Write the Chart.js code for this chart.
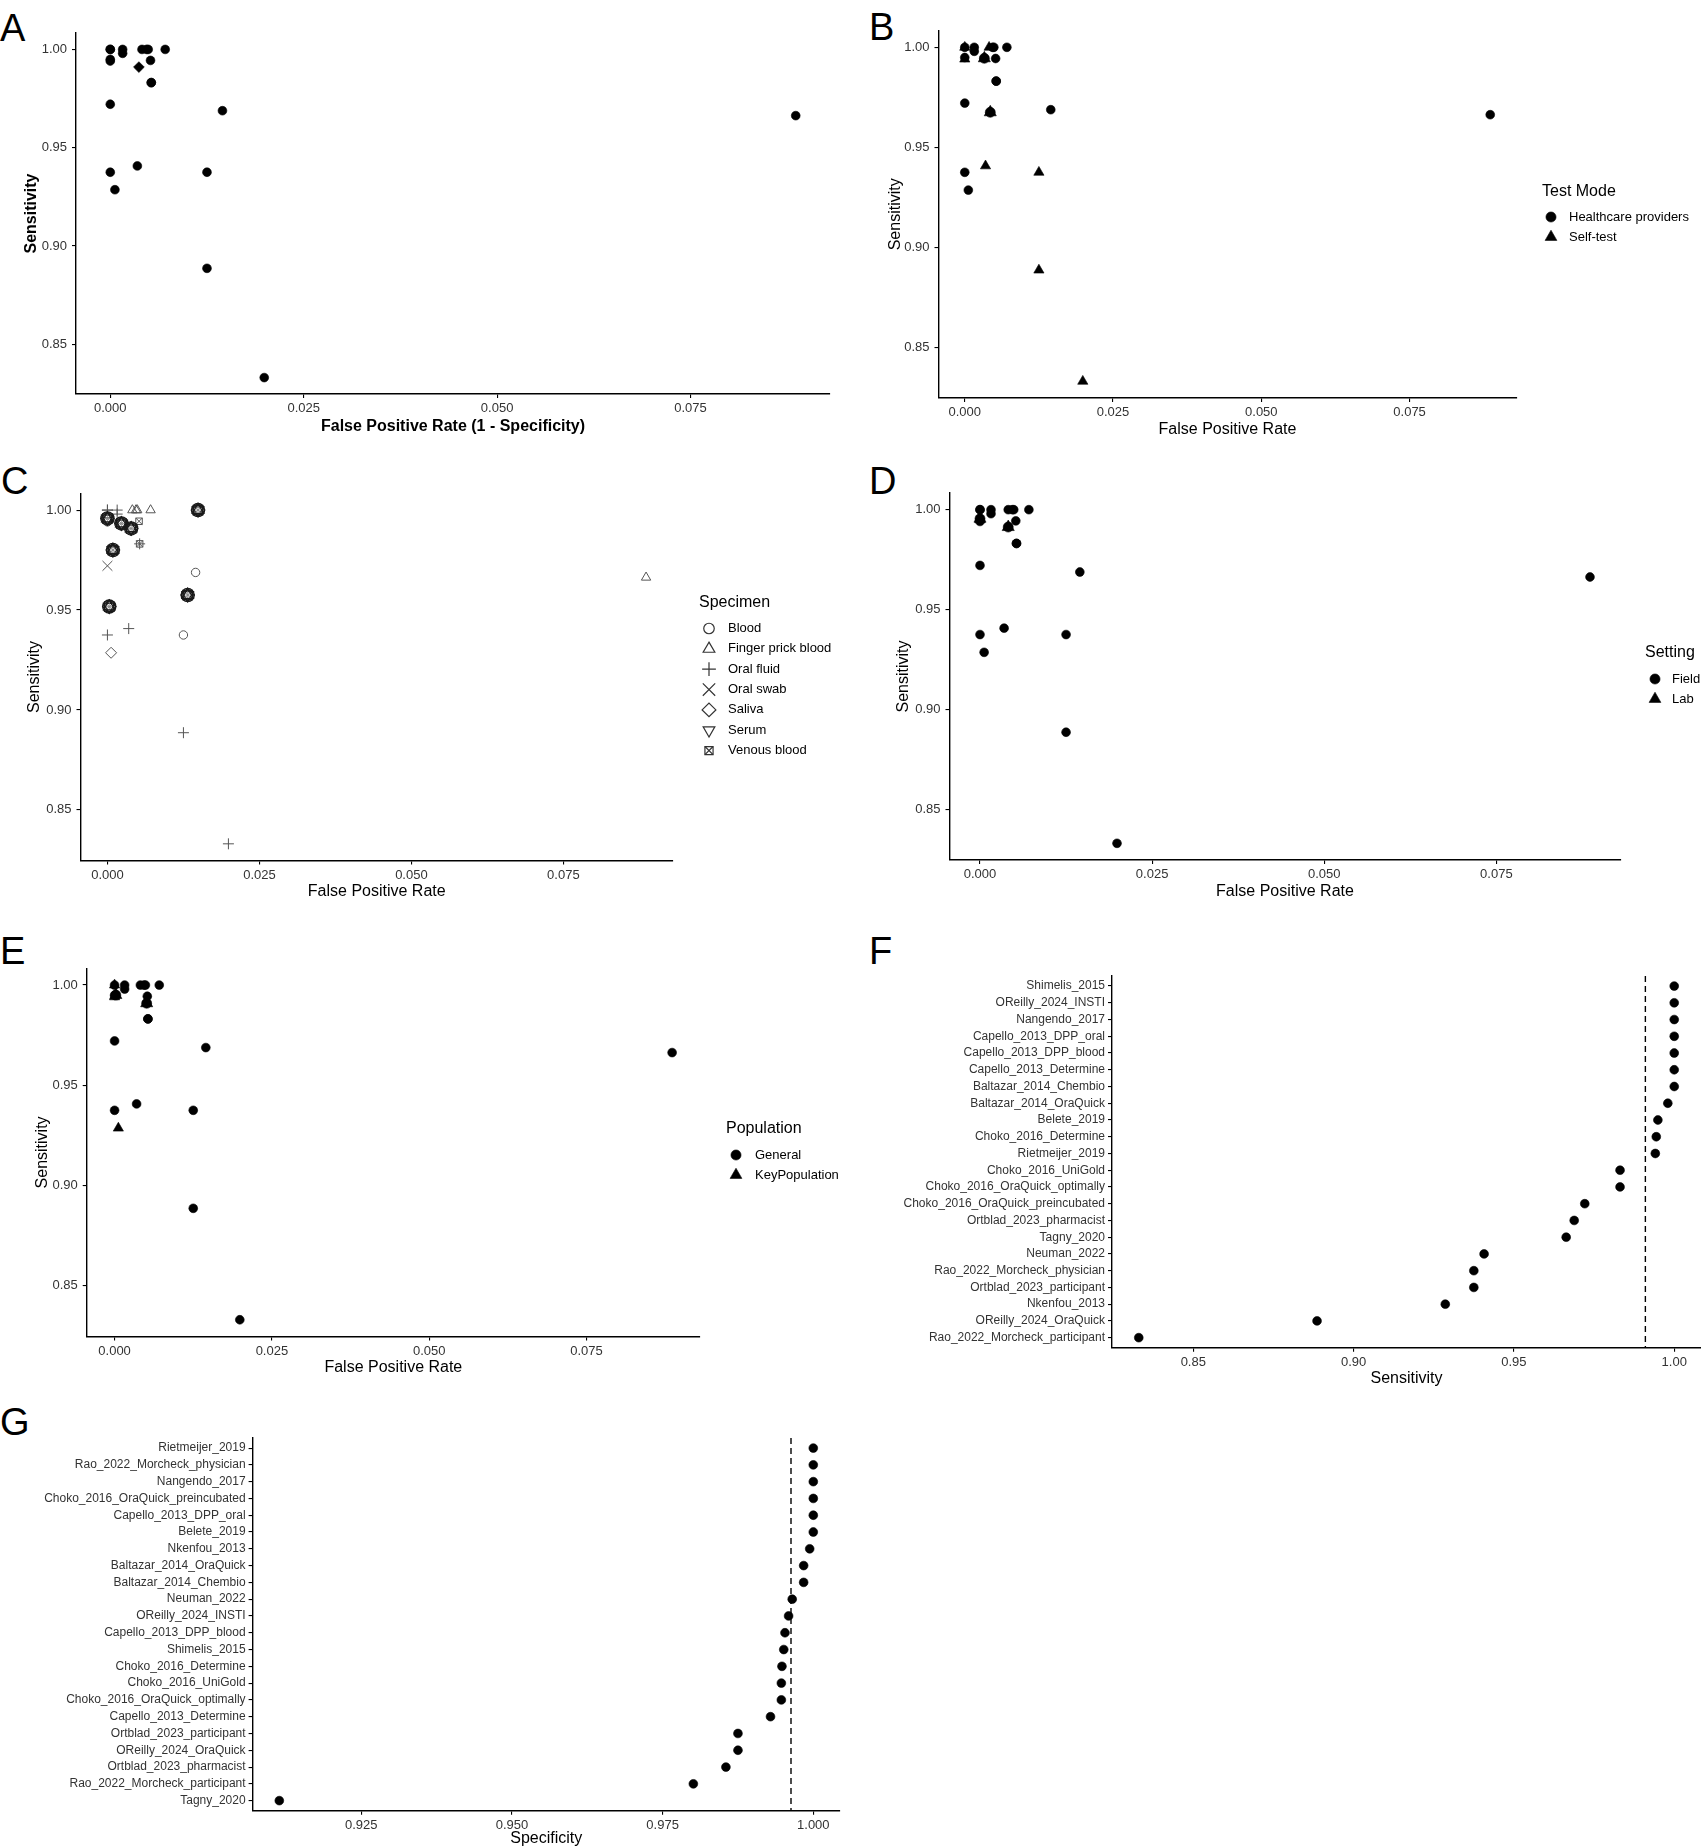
<!DOCTYPE html>
<html>
<head>
<meta charset="utf-8">
<script src="https://cdn.jsdelivr.net/npm/chart.js@4.4.1/dist/chart.umd.min.js"></script>
<style>
    html, body { margin: 0; padding: 0; background: #fff; }
    body { position: relative; width: 1701px; height: 1848px; overflow: hidden; font-family: "Liberation Sans", Arial, sans-serif; }
    canvas { position: absolute; }
    .tag { position: absolute; font-size: 38px; line-height: 38px; color: #000; }
</style>
</head>
<body>
<div class="tag" style="left:0px;top:9px">A</div>
<div class="tag" style="left:869px;top:8px">B</div>
<div class="tag" style="left:1px;top:462px">C</div>
<div class="tag" style="left:869px;top:462px">D</div>
<div class="tag" style="left:0px;top:932px">E</div>
<div class="tag" style="left:869px;top:932px">F</div>
<div class="tag" style="left:0px;top:1403px">G</div>
<canvas id="panel-a"></canvas>
<canvas id="panel-b"></canvas>
<canvas id="panel-c"></canvas>
<canvas id="panel-d"></canvas>
<canvas id="panel-e"></canvas>
<canvas id="panel-f"></canvas>
<canvas id="panel-g"></canvas>
<script>
// studies, listed top to bottom as in the sensitivity dot plot (F)
const studies = [
    'Shimelis_2015', 'OReilly_2024_INSTI', 'Nangendo_2017', 'Capello_2013_DPP_oral',
    'Capello_2013_DPP_blood', 'Capello_2013_Determine', 'Baltazar_2014_Chembio', 'Baltazar_2014_OraQuick',
    'Belete_2019', 'Choko_2016_Determine', 'Rietmeijer_2019', 'Choko_2016_UniGold',
    'Choko_2016_OraQuick_optimally', 'Choko_2016_OraQuick_preincubated', 'Ortblad_2023_pharmacist', 'Tagny_2020',
    'Neuman_2022', 'Rao_2022_Morcheck_physician', 'Ortblad_2023_participant', 'Nkenfou_2013',
    'OReilly_2024_OraQuick', 'Rao_2022_Morcheck_participant'
];
const sensitivity = [
    1.000, 1.000, 1.000, 1.000,
    1.000, 1.000, 1.000, 0.998,
    0.9949, 0.9944, 0.9941, 0.9831,
    0.9831, 0.9721, 0.9688, 0.9663,
    0.9407, 0.9375, 0.9375, 0.9286,
    0.8886, 0.8330
];
const specificity = [
    0.9951, 0.9959, 1.000, 1.000,
    0.9953, 0.9929, 0.9984, 0.9984,
    1.000, 0.9948, 1.000, 0.9947,
    0.9947, 1.000, 0.9855, 0.9114,
    0.9965, 1.000, 0.9875, 0.9994,
    0.9875, 0.9801
];
// order of the specificity dot plot (G), top to bottom
const specificityOrder = [
    'Rietmeijer_2019', 'Rao_2022_Morcheck_physician', 'Nangendo_2017', 'Choko_2016_OraQuick_preincubated',
    'Capello_2013_DPP_oral', 'Belete_2019', 'Nkenfou_2013', 'Baltazar_2014_OraQuick',
    'Baltazar_2014_Chembio', 'Neuman_2022', 'OReilly_2024_INSTI', 'Capello_2013_DPP_blood',
    'Shimelis_2015', 'Choko_2016_Determine', 'Choko_2016_UniGold', 'Choko_2016_OraQuick_optimally',
    'Capello_2013_Determine', 'Ortblad_2023_participant', 'OReilly_2024_OraQuick', 'Ortblad_2023_pharmacist',
    'Rao_2022_Morcheck_participant', 'Tagny_2020'
];
const pooledSensitivity = 0.991;
const pooledSpecificity = 0.9963;

// subgroups (one entry per study) and their pooled points
const testModes = ['Healthcare providers', 'Self-test'];
const testMode = [0, 1, 1, 0, 0, 0, 0, 0, 0, 0, 1, 0, 0, 0, 0, 0, 1, 0, 1, 0, 1, 1];
const testModeSummaryFpr = [0.0033, 0.0043];
const testModeSummarySens = [0.9945, 0.9675];

const specimens = ['Blood', 'Finger prick blood', 'Oral fluid', 'Oral swab', 'Saliva', 'Serum', 'Venous blood'];
const specimen = [1, 1, 2, 2, 1, 1, 2, 2, 5, 6, 0, 6, 2, 3, 0, 1, 2, 2, 0, 4, 2, 2];
const specimenSummaryFpr = [0.0132, 0.0149, 0.0003, 0.0009, 0.0000, 0.0023, 0.0039];
const specimenSummarySens = [0.9575, 1.000, 0.9517, 0.980, 0.9958, 0.9933, 0.9908];

const settings = ['Field', 'Lab'];
const setting = [0, 0, 0, 0, 0, 0, 0, 0, 1, 0, 0, 0, 0, 0, 0, 0, 0, 0, 0, 0, 0, 0];
const settingSummaryFpr = [0.0041, 0.0000];
const settingSummarySens = [0.9913, 0.9955];

const populations = ['General', 'KeyPopulation'];
const population = [0, 0, 1, 0, 0, 0, 0, 0, 0, 0, 1, 0, 0, 0, 0, 0, 0, 0, 0, 1, 0, 0];
const populationSummaryFpr = [0.0051, 0.0002];
const populationSummarySens = [0.9909, 0.9950];

const fprTicks = [0, 0.025, 0.05, 0.075];
const sensTicks = [0.85, 0.90, 0.95, 1.00];
const specTicks = [0.925, 0.950, 0.975, 1.000];

// page geometry: box = canvas [x, y, w, h], area = plot [left, top, right, bottom]
const panels = {
    a: { box: [0, 0, 850, 450], area: [76, 33, 830, 394], xTitleY: 427, yTitleX: 31.5 },
    b: { box: [850, 0, 851, 450], area: [938.5, 30.6, 1516.5, 398], xTitleY: 430, yTitleX: 896 },
    c: { box: [0, 455, 850, 455], area: [80.5, 493.4, 673, 860.5], xTitleY: 892, yTitleX: 35 },
    d: { box: [850, 455, 851, 455], area: [949.5, 493, 1620.5, 860], xTitleY: 892, yTitleX: 904 },
    e: { box: [0, 925, 850, 455], area: [86.7, 968.3, 700, 1336.5], xTitleY: 1368, yTitleX: 43 },
    f: { box: [850, 925, 856, 465], area: [1112, 976, 1703, 1347.7], xTitleY: 1378.5 },
    g: { box: [0, 1395, 850, 453], area: [252.6, 1438, 840, 1810.7], xTitleY: 1839 }
};

Chart.defaults.font.family = '"Liberation Sans", Arial, sans-serif';
Chart.defaults.color = '#000';

const TITLE_LH = 16 * 1.2;

// point marks, each a list of overlaid Chart.js point styles
const dot = [{ style: 'circle', r: 4.4 }];
const triangle = [{ style: 'triangle', r: 5.9 }];
const diamond = [{ style: 'rectRot', r: 5.4 }];
const bell = [{ style: 'circle', r: 5 }, { style: 'triangle', r: 7 }];
const specimenMarks = [
    [{ style: 'circle', r: 4.2, open: true }],
    [{ style: 'triangle', r: 5.4, open: true }],
    [{ style: 'cross', r: 5.5, open: true }],
    [{ style: 'crossRot', r: 7, open: true }],
    [{ style: 'rectRot', r: 5.5, open: true }],
    [{ style: 'triangle', r: 5.4, rot: 180, open: true }],
    [{ style: 'rect', r: 4.6, open: true }, { style: 'crossRot', r: 4.6, open: true }]
];
// pooled specimen points: every specimen shape laid over each other
const gear = specimenMarks.flat().map(p => {
    const isCross = p.style === 'cross' || p.style === 'crossRot';
    return { ...p, r: isCross ? 4.2 : 6.6, lw: isCross ? 0.8 : 1.3, colour: isCross ? '#8a8a8a' : '#1a1a1a' };
});

function expandRange (values, mult = 0.05) {
    const lo = Math.min(...values);
    const hi = Math.max(...values);
    const pad = (hi - lo) * mult;
    return [lo - pad, hi + pad];
}

const falsePositive = specificity.map(v => 1 - v);
const fprRange = expandRange(falsePositive);
const sensRange = expandRange(sensitivity);
const specRange = expandRange(specificity);

function placeCanvas (id, box) {
    const canvas = document.getElementById(id);
    canvas.width = box[2];
    canvas.height = box[3];
    canvas.style.left = box[0] + 'px';
    canvas.style.top = box[1] + 'px';
    return canvas;
}

function markDatasets (points, parts, colour, order) {
    return parts.map(part => {
        const c = part.colour || colour;
        return {
            data: points,
            pointStyle: part.style,
            pointRadius: part.r,
            pointRotation: part.rot || 0,
            backgroundColor: part.open ? 'rgba(0,0,0,0)' : c,
            borderColor: c,
            borderWidth: part.lw || (part.open ? 1 : 0.6),
            order
        };
    });
}

function drawMark (ctx, parts, colour, x, y, scale) {
    parts.forEach(part => {
        const lw = part.lw || (part.open ? 1.2 : 0.6);
        ctx.save();
        ctx.fillStyle = part.open ? 'rgba(0,0,0,0)' : colour;
        ctx.strokeStyle = colour;
        ctx.lineWidth = lw;
        Chart.helpers.drawPoint(ctx, {
            pointStyle: part.style,
            radius: part.r * scale,
            rotation: part.rot || 0,
            borderWidth: lw
        }, x, y);
        ctx.restore();
    });
}

function makeLegend (box, legend) {
    return {
        id: 'sideLegend',
        afterDraw (chart) {
            const ctx = chart.ctx;
            const ox = box[0];
            const oy = box[1];
            ctx.save();
            ctx.textBaseline = 'middle';
            ctx.textAlign = 'left';
            ctx.fillStyle = '#000';
            ctx.font = '16px "Liberation Sans", Arial, sans-serif';
            ctx.fillText(legend.title, legend.x - ox, legend.y - oy);
            ctx.font = '13px "Liberation Sans", Arial, sans-serif';
            legend.rows.forEach(row => {
                drawMark(ctx, row.parts, row.colour, legend.symbolX - ox, row.y - oy, row.scale || 1.15);
                ctx.fillStyle = '#000';
                ctx.fillText(row.label, legend.textX - ox, row.y - oy);
            });
            ctx.restore();
        }
    };
}

function valueAxis (layout, range, ticks, digits, title, bold) {
    const [, by, , bh] = layout.box;
    const bottom = layout.area[3];
    return {
        type: 'linear',
        position: 'bottom',
        min: range[0],
        max: range[1],
        afterBuildTicks: scale => { scale.ticks = ticks.map(value => ({ value })); },
        afterFit: scale => { scale.height = by + bh - bottom; },
        border: { display: true, color: '#000', width: 1.4 },
        grid: { drawOnChartArea: false, drawTicks: true, tickLength: 4, color: '#000', lineWidth: 1.1 },
        ticks: {
            autoSkip: false,
            maxRotation: 0,
            padding: 3,
            color: '#333',
            font: { size: 13 },
            callback: value => value.toFixed(digits)
        },
        title: {
            display: true,
            text: title,
            color: '#000',
            font: { size: 16, weight: bold ? 'bold' : 'normal' },
            padding: { top: 0, bottom: by + bh - layout.xTitleY - TITLE_LH / 2 }
        }
    };
}

function sensAxis (layout, bold) {
    const bx = layout.box[0];
    const left = layout.area[0];
    return {
        type: 'linear',
        position: 'left',
        min: sensRange[0],
        max: sensRange[1],
        afterBuildTicks: scale => { scale.ticks = sensTicks.map(value => ({ value })); },
        afterFit: scale => { scale.width = left - bx; },
        border: { display: true, color: '#000', width: 1.4 },
        grid: { drawOnChartArea: false, drawTicks: true, tickLength: 4, color: '#000', lineWidth: 1.1 },
        ticks: { autoSkip: false, padding: 5, color: '#333', font: { size: 13 }, callback: value => value.toFixed(2) },
        title: {
            display: true,
            text: 'Sensitivity',
            color: '#000',
            font: { size: 16, weight: bold ? 'bold' : 'normal' },
            padding: { top: layout.yTitleX - bx - TITLE_LH / 2, bottom: 0 }
        }
    };
}

function rowAxis (layout, names) {
    const bx = layout.box[0];
    const left = layout.area[0];
    return {
        type: 'linear',
        position: 'left',
        reverse: true,
        min: -0.6,
        max: names.length - 0.4,
        afterBuildTicks: scale => { scale.ticks = names.map((_, i) => ({ value: i })); },
        afterFit: scale => { scale.width = left - bx; },
        border: { display: true, color: '#000', width: 1.4 },
        grid: { drawOnChartArea: false, drawTicks: true, tickLength: 4, color: '#000', lineWidth: 1.1 },
        ticks: { autoSkip: false, padding: 3, color: '#333', font: { size: 12 }, callback: value => names[value] }
    };
}

function baseOptions (layout) {
    const [bx, by, bw] = layout.box;
    const [, top, right] = layout.area;
    return {
        responsive: false,
        animation: false,
        events: [],
        layout: { padding: { left: 0, top: top - by, right: bx + bw - right, bottom: 0 } },
        plugins: { legend: { display: false }, tooltip: { enabled: false } }
    };
}

function studyPoints (groups, key) {
    return studies
        .map((name, i) => ({ x: falsePositive[i], y: sensitivity[i], g: groups ? groups[i] : 0 }))
        .filter(p => p.g === key);
}

function scatterPanel (id, layout, datasets, legend, bold, xTitle) {
    const canvas = placeCanvas(id, layout.box);
    const options = baseOptions(layout);
    options.scales = {
        x: valueAxis(layout, fprRange, fprTicks, 3, xTitle, bold),
        y: sensAxis(layout, bold)
    };
    new Chart(canvas, {
        type: 'scatter',
        data: { datasets },
        options,
        plugins: legend ? [makeLegend(layout.box, legend)] : []
    });
}

function groupedPanel (id, layout, names, groups, marks, summaryFpr, summarySens, summaryMark, colour, legendPos) {
    let datasets = [];
    names.forEach((name, k) => {
        datasets = datasets.concat(markDatasets(studyPoints(groups, k), marks[k], colour, 2));
    });
    const summary = summaryFpr.map((x, k) => ({ x, y: summarySens[k] }));
    datasets = datasets.concat(markDatasets(summary, summaryMark, '#000', 0));

    const legend = {
        title: legendPos.title,
        x: legendPos.x,
        y: legendPos.y,
        symbolX: legendPos.symbolX,
        textX: legendPos.textX,
        rows: names.map((label, k) => ({
            label,
            parts: marks[k],
            colour: legendPos.colour || colour,
            y: legendPos.firstY + k * legendPos.step,
            scale: legendPos.scale
        }))
    };
    scatterPanel(id, layout, datasets, legend, false, 'False Positive Rate');
}

function dotPlot (id, layout, names, values, ticks, range, pooled, title) {
    const canvas = placeCanvas(id, layout.box);
    const options = baseOptions(layout);
    options.scales = {
        x: valueAxis(layout, range, ticks, ticks[0] < 0.9 ? 2 : 3, title, false),
        y: rowAxis(layout, names)
    };
    const points = names.map((name, i) => ({ x: values[i], y: i }));
    new Chart(canvas, {
        type: 'scatter',
        data: {
            datasets: [
                ...markDatasets(points, dot, '#000', 0),
                {
                    data: [{ x: pooled, y: -0.6 }, { x: pooled, y: names.length - 0.4 }],
                    showLine: true,
                    pointRadius: 0,
                    borderColor: '#000',
                    borderWidth: 1.4,
                    borderDash: [6, 4],
                    order: 1
                }
            ]
        },
        options
    });
}

// A: all studies with the pooled estimate
scatterPanel('panel-a', panels.a, [
    ...markDatasets([{ x: 1 - pooledSpecificity, y: pooledSensitivity }], diamond, '#000', 0),
    ...markDatasets(studyPoints(null, 0), dot, '#000', 1)
], null, true, 'False Positive Rate (1 - Specificity)');

// B: test mode
groupedPanel('panel-b', panels.b, testModes, testMode, [dot, triangle],
    testModeSummaryFpr, testModeSummarySens, bell, '#000',
    { title: 'Test Mode', x: 1542, y: 192, symbolX: 1551, textX: 1569, firstY: 217, step: 20 });

// C: specimen
groupedPanel('panel-c', panels.c, specimens, specimen, specimenMarks,
    specimenSummaryFpr, specimenSummarySens, gear, '#555',
    { title: 'Specimen', x: 699, y: 603, symbolX: 709, textX: 728, firstY: 628.5, step: 20.35, colour: '#333', scale: 1.25 });

// D: setting
groupedPanel('panel-d', panels.d, settings, setting, [dot, triangle],
    settingSummaryFpr, settingSummarySens, bell, '#000',
    { title: 'Setting', x: 1645, y: 653, symbolX: 1655, textX: 1672, firstY: 679, step: 20 });

// E: population
groupedPanel('panel-e', panels.e, populations, population, [dot, triangle],
    populationSummaryFpr, populationSummarySens, bell, '#000',
    { title: 'Population', x: 726, y: 1129, symbolX: 736, textX: 755, firstY: 1155, step: 20 });

// F: sensitivity by study
dotPlot('panel-f', panels.f, studies, sensitivity, sensTicks, sensRange, pooledSensitivity, 'Sensitivity');

// G: specificity by study
dotPlot('panel-g', panels.g, specificityOrder,
    specificityOrder.map(name => specificity[studies.indexOf(name)]),
    specTicks, specRange, pooledSpecificity, 'Specificity');
</script>
</body>
</html>
